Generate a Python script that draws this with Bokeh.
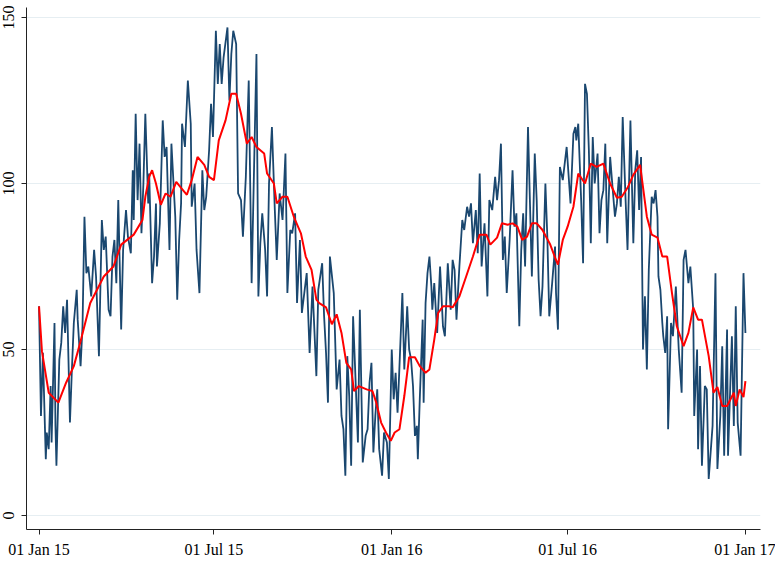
import pandas as pd
from bokeh.plotting import figure
from bokeh.models import FixedTicker, Range1d
from bokeh.embed import file_html
from bokeh.resources import INLINE

start_date = "2015-01-01"

# daily series (day offset from start, value)
blue_day = [
    0, 2, 4, 7, 8, 10, 12, 13, 16, 17,
    18, 21, 23, 25, 27, 29, 32, 34, 36, 39,
    40, 43, 45, 47, 49, 51, 54, 57, 59, 62,
    65, 67, 69, 72, 74, 76, 78, 80, 82, 85,
    87, 90, 92, 95, 97, 98, 100, 102, 104, 106,
    108, 110, 113, 114, 117, 119, 121, 122, 125, 128,
    130, 132, 135, 137, 141, 143, 145, 147, 148, 151,
    154, 157, 158, 161, 163, 166, 169, 171, 173, 176,
    178, 180, 183, 185, 187, 189, 191, 195, 197, 199,
    201, 204, 206, 209, 211, 214, 217, 220, 225, 227,
    229, 231, 234, 236, 238, 241, 244, 246, 249, 252,
    255, 257, 260, 262, 265, 267, 270, 272, 277, 280,
    283, 287, 289, 293, 295, 297, 299, 301, 305, 308,
    311, 313, 315, 317, 319, 321, 323, 325, 327, 330,
    332, 335, 338, 340, 342, 344, 346, 348, 350, 352,
    355, 357, 360, 362, 365, 367, 369, 371, 373, 376,
    378, 381, 383, 385, 387, 389, 391, 392, 394, 397,
    398, 400, 402, 404, 406, 407, 409, 412, 415, 418,
    420, 423, 426, 428, 430, 432, 435, 438, 440, 443,
    445, 447, 449, 452, 454, 456, 458, 461, 464, 466,
    469, 472, 474, 476, 478, 480, 482, 484, 487, 490,
    492, 494, 497, 499, 501, 503, 506, 510, 513, 515,
    517, 519, 521, 524, 526, 528, 531, 534, 535, 537,
    539, 542, 546, 550, 553, 555, 556, 558, 561, 563,
    565, 567, 569, 571, 573, 575, 578, 580, 582, 584,
    586, 588, 591, 594, 596, 598, 600, 602, 604, 607,
    609, 612, 615, 617, 619, 621, 623, 625, 627, 629,
    631, 634, 636, 638, 640, 641, 643, 645, 646, 648,
    650, 651, 654, 656, 659, 662, 665, 667, 669, 672,
    674, 677, 678, 681, 682, 684, 686, 689, 691, 693,
    697, 700, 702, 705, 707, 709, 712, 713, 717, 719,
    721, 723, 726, 729, 731,
]
blue_val = [
    63, 30, 49, 17, 25, 20, 39, 22, 58, 27,
    15, 47, 52, 63, 55, 65, 28, 44, 58, 68,
    59, 45, 57, 90, 73, 75, 66, 80, 72, 48,
    89, 80, 84, 62, 60, 78, 83, 70, 95, 56,
    80, 92, 84, 79, 104, 89, 121, 95, 112, 85,
    100, 121, 94, 103, 70, 78, 94, 75, 88, 119,
    108, 111, 80, 112, 90, 65, 83, 94, 118, 111,
    131, 118, 93, 100, 80, 67, 104, 92, 96, 110,
    124, 114, 146, 130, 142, 130, 138, 147, 125, 139,
    146, 142, 97, 95, 84, 102, 131, 70, 139, 66,
    82, 91, 80, 66, 100, 117, 92, 77, 97, 89,
    109, 67, 86, 85, 91, 64, 83, 61, 73, 49,
    69, 42, 68, 76, 60, 49, 34, 78, 67, 38,
    47, 30, 26, 12, 48, 36, 15, 60, 45, 22,
    62, 16, 24, 26, 40, 46, 19, 30, 38, 20,
    12, 25, 22, 11, 50, 35, 43, 31, 45, 67,
    44, 63, 50, 47, 39, 24, 27, 17, 35, 59,
    34, 64, 73, 78, 69, 62, 70, 55, 75, 57,
    54, 76, 62, 77, 74, 59, 75, 89, 86, 93,
    90, 94, 82, 92, 79, 103, 75, 88, 66, 95,
    92, 102, 95, 101, 112, 77, 84, 67, 83, 104,
    87, 91, 57, 80, 91, 75, 117, 72, 109, 95,
    71, 60, 69, 100, 84, 60, 70, 81, 67, 56,
    105, 101, 111, 94, 115, 117, 113, 118, 95, 76,
    130, 127, 110, 82, 114, 100, 109, 85, 95, 98,
    112, 82, 108, 97, 90, 94, 102, 93, 120, 95,
    80, 119, 82, 104, 110, 92, 108, 50, 66, 44,
    74, 96, 94, 98, 90, 72, 68, 58, 54, 49,
    60, 26, 58, 54, 69, 50, 37, 77, 80, 70,
    75, 62, 30, 50, 20, 45, 15, 39, 38, 11,
    27, 73, 14, 30, 51, 18, 56, 18, 54, 27,
    63, 28, 18, 73, 55,
]

# moving average (day offset, value)
red_day = [
    0, 3, 10, 20, 28, 36, 43, 53, 67, 77,
    85, 98, 107, 110, 114, 117, 121, 126, 131, 136,
    142, 147, 153, 158, 164, 171, 176, 181, 186, 193,
    199, 204, 209, 215, 220, 225, 233, 236, 243, 246,
    252, 257, 264, 271, 276, 282, 287, 290, 297, 303,
    308, 313, 318, 323, 326, 331, 339, 345, 349, 354,
    359, 364, 368, 373, 378, 383, 389, 394, 400, 404,
    409, 413, 418, 425, 428, 435, 442, 449, 456, 463,
    467, 474, 479, 485, 490, 495, 500, 505, 510, 515,
    521, 529, 534, 537, 542, 547, 553, 558, 565, 571,
    577, 584, 591, 598, 603, 609, 615, 622, 629, 634,
    640, 645, 650, 655, 660, 667, 672, 677, 682, 686,
    693, 698, 702, 707, 712, 719, 721, 725, 729, 731,
]
red_val = [
    63, 49.5, 37, 34, 40, 45, 52.5, 64, 72, 75,
    81.6, 84.6, 89, 96, 102, 104, 100, 93.6, 97, 96,
    100.5, 98.7, 96.6, 101, 108, 105.6, 102, 101, 113, 119,
    127, 127, 121, 112, 114, 111, 109, 103, 100, 94,
    96, 96, 89.7, 85, 78, 74, 65, 64, 62.7, 57.6,
    60.6, 55, 46, 44, 37.5, 39, 38, 37.5, 34, 28,
    25, 22.5, 25, 26, 36, 47.7, 47.7, 45, 43, 44,
    53, 61, 63, 63, 62.7, 66, 72, 78, 84.6, 84.6,
    81.6, 83.7, 88, 87.6, 88, 87, 83, 84, 88, 88,
    86, 81.6, 77.7, 75.6, 83, 87, 93, 103, 100, 106,
    105, 106, 100, 95.7, 96, 98.7, 102.6, 105.6, 90, 84.6,
    83.7, 78, 78, 67, 57, 51, 55, 62.7, 59, 59,
    48, 37, 38.7, 33, 33, 37, 33, 38, 35.7, 40.5,
]

x_tick_dates = ["2015-01-01", "2015-07-01", "2016-01-01", "2016-07-01", "2017-01-01"]
x_tick_labels = ["01 Jan 15", "01 Jul 15", "01 Jan 16", "01 Jul 16", "01 Jan 17"]
y_ticks = [0, 50, 100, 150]

base = pd.Timestamp(start_date)
x_ticks = [int((pd.Timestamp(d) - base).days) for d in x_tick_dates]

p = figure(
    width=775, height=560,
    output_backend="svg", toolbar_location=None,
    x_range=Range1d(-12.97, x_ticks[-1] + 15.6),
    y_range=Range1d(-4.2, 153.0),
    min_border_left=0, min_border_right=15, min_border_top=7, min_border_bottom=0,
)
p.background_fill_color = "white"
p.border_fill_color = "white"
p.outline_line_color = None

p.line(blue_day, blue_val, line_color="#1a476f", line_width=1.8)
p.line(red_day, red_val, line_color="#ff0000", line_width=2)

font = "Liberation Serif"
for ax in (p.xaxis[0], p.yaxis[0]):
    ax.major_label_text_font = font
    ax.major_label_text_font_size = "16px"
    ax.major_label_text_color = "black"
    ax.axis_line_color = "#222222"
    ax.axis_line_width = 1
    ax.major_tick_line_color = "#222222"
    ax.major_tick_in = 0
    ax.major_tick_out = 5
    ax.minor_tick_line_color = None

p.xaxis.ticker = FixedTicker(ticks=x_ticks)
p.xaxis.major_label_overrides = dict(zip(x_ticks, x_tick_labels))
p.xaxis.major_label_standoff = 6

p.yaxis.ticker = FixedTicker(ticks=y_ticks)
p.yaxis.major_label_orientation = "vertical"
p.yaxis.major_label_standoff = 7

p.xgrid.visible = False
p.ygrid.grid_line_color = "#e6eef2"
p.ygrid.grid_line_width = 1

open("out.html", "w").write(file_html(p, INLINE))
